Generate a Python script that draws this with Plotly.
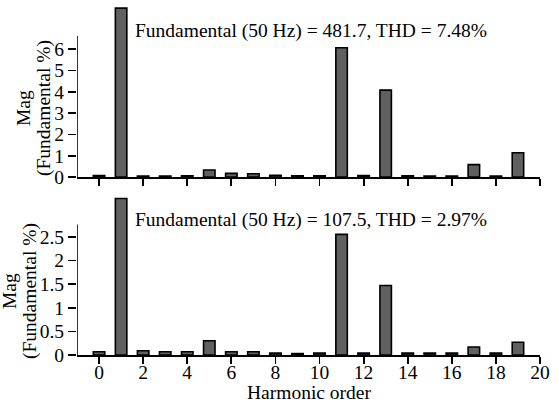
import plotly.graph_objects as go

harmonics = list(range(0, 20))
mag_top = [0.07, 7.93, 0.05, 0.05, 0.06, 0.33, 0.17, 0.15, 0.08, 0.06,
           0.06, 6.07, 0.07, 4.08, 0.06, 0.04, 0.05, 0.58, 0.05, 1.14]
mag_bottom = [0.07, 3.31, 0.09, 0.07, 0.07, 0.30, 0.07, 0.07, 0.04, 0.03,
              0.04, 2.55, 0.04, 1.47, 0.04, 0.04, 0.04, 0.17, 0.04, 0.27]
label_top = "Fundamental (50 Hz) = 481.7, THD = 7.48%"
label_bottom = "Fundamental (50 Hz) = 107.5, THD = 2.97%"
x_title = "Harmonic order"
y_title_1 = "Mag"
y_title_2 = "(Fundamental %)"
x_ticks = list(range(0, 21, 2))
y_ticks_top = [0, 1, 2, 3, 4, 5, 6]
y_ticks_bottom = [0, 0.5, 1, 1.5, 2, 2.5]
y_ticktext_bottom = ["0", "0.5", "1", "1.5", "2", "2.5"]

W, H = 559, 402
ml, mr, mt, mb = 77, 19, 6, 47
ph = H - mt - mb
pw = W - ml - mr
unit_top = 21.3
unit_bot = 47.3
y0_top_px = 177
y0_bot_px = 355
ytop_range = 8.0
ybot_range = 3.36
FS = 19.5


def frac(px):
    return (H - mb - px) / ph


def xfrac(px):
    return (px - ml) / pw


top_dom = [frac(y0_top_px), frac(y0_top_px - ytop_range * unit_top)]
bot_dom = [0, frac(y0_bot_px - ybot_range * unit_bot)]

FONT = "Liberation Serif"
fig = go.Figure()
bar_style = dict(marker=dict(color="#606060", line=dict(color="black", width=1.6)),
                 width=0.52, showlegend=False, hoverinfo="skip")
fig.add_trace(go.Bar(x=harmonics, y=mag_top, xaxis="x", yaxis="y", **bar_style))
fig.add_trace(go.Bar(x=harmonics, y=mag_bottom, xaxis="x2", yaxis="y2", **bar_style))

xcommon = dict(range=[-1, 20], tickvals=x_ticks, ticks="outside", ticklen=7, tickwidth=1.8,
               tickcolor="black", showline=True, linecolor="black", linewidth=1.6,
               showgrid=False, zeroline=False, automargin=False,
               tickfont=dict(family=FONT, size=FS, color="black"))
ycommon = dict(ticks="outside", ticklen=8, tickwidth=1.6, tickcolor="black",
               showline=False, showgrid=False, zeroline=False, automargin=False,
               tickfont=dict(family=FONT, size=FS, color="black"))

fig.update_layout(
    width=W, height=H, margin=dict(l=ml, r=mr, t=mt, b=mb, autoexpand=False),
    paper_bgcolor="white", plot_bgcolor="white",
    font=dict(family=FONT, size=FS, color="black"),
    xaxis=dict(domain=[0, 1], anchor="y", showticklabels=False, **xcommon),
    yaxis=dict(domain=top_dom, anchor="x", range=[0, ytop_range], tickvals=y_ticks_top, **ycommon),
    xaxis2=dict(domain=[0, 1], anchor="y2", showticklabels=True, ticklabelstandoff=-8, **xcommon),
    yaxis2=dict(domain=bot_dom, anchor="x2", range=[0, ybot_range], tickvals=y_ticks_bottom,
                ticktext=y_ticktext_bottom, **ycommon),
)

# y-axis lines (shorter than plot area, as in reference)
fig.add_shape(type="line", xref="x", yref="y", x0=-1, x1=-1, y0=0, y1=6.62,
              line=dict(color="black", width=1.6))
fig.add_shape(type="line", xref="x2", yref="y2", x0=-1, x1=-1, y0=0, y1=2.76,
              line=dict(color="black", width=1.6))

fig.add_annotation(text=label_top, xref="x", yref="y", x=1.55, y=(y0_top_px - 31) / unit_top,
                   xanchor="left", yanchor="middle", showarrow=False,
                   font=dict(family=FONT, size=FS, color="black"))
fig.add_annotation(text=label_bottom, xref="x2", yref="y2", x=1.55, y=(y0_bot_px - 220) / unit_bot,
                   xanchor="left", yanchor="middle", showarrow=False,
                   font=dict(family=FONT, size=FS, color="black"))

fig.add_annotation(text=x_title, xref="paper", yref="paper", x=xfrac(309),
                   y=frac(392), xanchor="center", yanchor="middle", showarrow=False,
                   font=dict(family=FONT, size=FS, color="black"))

# y titles: (x of "Mag", x of "(Fundamental %)", y center) in pixels
for x_mag, x_fund, yc in ((24, 44, 108), (9, 30, 291)):
    fig.add_annotation(text=y_title_1, xref="paper", yref="paper", x=xfrac(x_mag), y=frac(yc),
                       xanchor="center", yanchor="middle", textangle=-90, showarrow=False,
                       font=dict(family=FONT, size=FS, color="black"))
    fig.add_annotation(text=y_title_2, xref="paper", yref="paper", x=xfrac(x_fund), y=frac(yc),
                       xanchor="center", yanchor="middle", textangle=-90, showarrow=False,
                       font=dict(family=FONT, size=FS, color="black"))

fig.write_html("out.html", config={"displayModeBar": False, "staticPlot": True},
               post_script="document.body.style.margin='0';document.body.style.overflow='hidden';"
                           "document.documentElement.style.overflow='hidden';")
